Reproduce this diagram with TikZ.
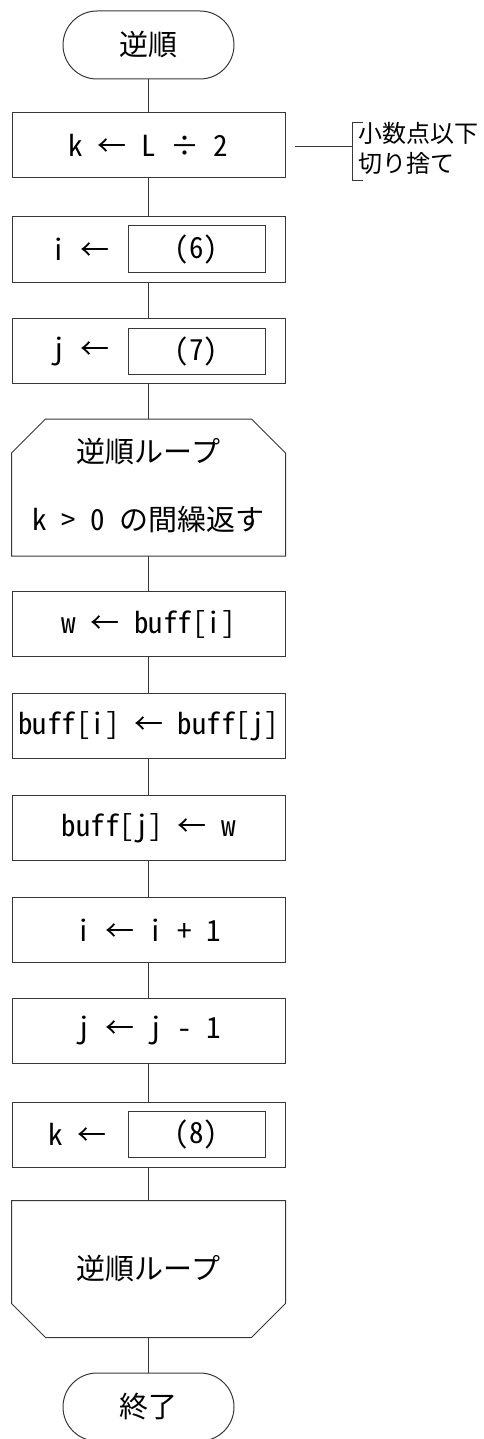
\documentclass[tikz,border=0pt]{standalone}
\usepackage{fontspec}
\setmainfont{Noto Sans CJK JP}[RawFeature={+hwid;-liga}]
\usetikzlibrary{positioning}

\colorlet{ln}{black!78}
\tikzset{
  proc/.style={draw=ln, minimum width=273pt, minimum height=65pt, inner sep=0pt},
  term/.style={draw=ln, rounded corners=34pt, minimum width=171pt, minimum height=68pt, inner sep=0pt},
  slot/.style={draw=ln, minimum width=137pt, minimum height=46pt, inner sep=0pt},
  loopbox/.style={minimum width=273pt, minimum height=136pt, inner sep=0pt},
}

\begin{document}
\begin{tikzpicture}[x=1pt,y=-1pt,line width=1pt,font=\fontsize{29}{34}\selectfont]
  \useasboundingbox (0,0) rectangle (483,1439);
  % start and first steps
  \node[term] (start) at (148.5,45) {逆順};
  \node[proc] (s1) at (148.5,145.5) {k ← L ÷ 2};
  \node[proc] (s2) at (148.5,249.5) {};
  \node (s2a) at (80,249.5) {i ←};
  \node[slot] (s2b) at (196.5,249) {(6)};
  \node[proc] (s3) at (148.5,351) {};
  \node (s3a) at (80,351) {j ←};
  \node[slot] (s3b) at (196.5,351) {(7)};
  % note
  \coordinate (nl) at (295,147);
  \coordinate (br) at (352,147);
  \node[anchor=west, align=left, inner sep=0pt, font=\fontsize{24}{30}\selectfont]
    (note) at (358,148) {小数点以下\\切り捨て};
  \draw[ln] (nl) -- (br);
  \draw[ln] (363,123) -- (352,123) -- (352,181) -- (363,181);
  % loop start
  \node[loopbox] (lp) at (148.5,487.5) {};
  \draw[ln]
    ([yshift=-34pt]lp.north west) -- ([xshift=34pt]lp.north west)
    -- ([xshift=-34pt]lp.north east) -- ([yshift=-34pt]lp.north east)
    -- (lp.south east) -- (lp.south west) -- cycle;
  \node (lpa) at (148.5,452) {逆順ループ};
  \node (lpb) at (148.5,519) {k > 0 の間繰返す};
  % loop body
  \node[proc] (s5) at (148.5,624) {w ← buff[i]};
  \node[proc] (s6) at (148.5,726) {buff[i] ← buff[j]};
  \node[proc] (s7) at (148.5,828) {buff[j] ← w};
  \node[proc] (s8) at (148.5,930) {i ← i + 1};
  \node[proc] (s9) at (148.5,1030.5) {j ← j - 1};
  \node[proc] (s10) at (148.5,1134.5) {};
  \node (s10a) at (77,1134.5) {k ←};
  \node[slot] (s10b) at (196.5,1134.5) {(8)};
  % loop end
  \node[loopbox] (le) at (148.5,1269) {};
  \draw[ln]
    (le.north west) -- (le.north east)
    -- ([yshift=34pt]le.south east) -- ([xshift=-34pt]le.south east)
    -- ([xshift=34pt]le.south west) -- ([yshift=34pt]le.south west) -- cycle;
  \node (lea) at (148.5,1268) {逆順ループ};
  \node[term] (stop) at (148.5,1407) {終了};
  % flow lines
  \draw[ln] (start) -- (s1);
  \draw[ln] (s1) -- (s2);
  \draw[ln] (s2) -- (s3);
  \draw[ln] (s3) -- (lp);
  \draw[ln] (lp) -- (s5);
  \draw[ln] (s5) -- (s6);
  \draw[ln] (s6) -- (s7);
  \draw[ln] (s7) -- (s8);
  \draw[ln] (s8) -- (s9);
  \draw[ln] (s9) -- (s10);
  \draw[ln] (s10) -- (le);
  \draw[ln] (le) -- (stop);
\end{tikzpicture}
\end{document}
